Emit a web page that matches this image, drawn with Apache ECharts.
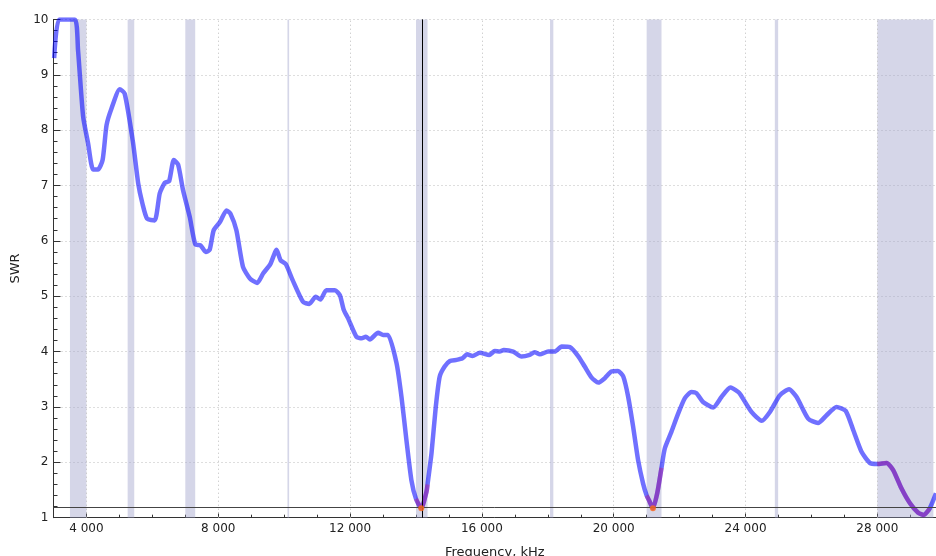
<!DOCTYPE html>
<html><head><meta charset="utf-8">
<script src="https://cdn.jsdelivr.net/npm/echarts@6/dist/echarts.min.js"></script>
<style>html,body{margin:0;padding:0;background:#fff}#c{width:936px;height:556px}</style>
</head><body><div id="c"></div>
<script>
const freq = [3020,3170,3650,3745,3900,4050,4200,4350,4490,4610,4760,5010,5160,5410,5570,5700,5840,6070,6225,6380,6510,6650,6780,6930,7135,7310,7460,7620,7740,7860,8050,8250,8370,8550,8750,8960,9180,9360,9580,9770,9890,10050,10250,10570,10760,10960,11100,11280,11540,11690,11810,11940,12190,12350,12480,12600,12850,13000,13150,13410,13560,13710,13860,14000,14160,14320,14350,14470,14600,14720,14870,15030,15230,15410,15550,15715,15940,16220,16390,16540,16665,16950,17200,17450,17600,17760,18010,18210,18420,18670,18920,19120,19330,19530,19730,19930,20130,20290,20440,20590,20740,20890,21000,21075,21190,21320,21450,21550,21750,21955,22160,22360,22510,22710,23017,23270,23540,23780,23850,24180,24490,24740,25040,25320,25550,25900,26200,26460,26760,27040,27270,27520,27770,28000,28280,28480,28730,28990,29240,29410,29590,29780];
const swr = [9.3,10.0,10.0,9.44,8.24,7.76,7.29,7.29,7.46,8.09,8.39,8.74,8.66,7.79,7.04,6.67,6.40,6.37,6.86,7.05,7.08,7.46,7.38,6.92,6.43,5.93,5.92,5.80,5.84,6.19,6.34,6.55,6.49,6.19,5.53,5.32,5.24,5.41,5.58,5.84,5.65,5.58,5.30,4.90,4.86,4.99,4.94,5.11,5.11,5.02,4.75,4.60,4.27,4.24,4.27,4.22,4.34,4.30,4.30,3.79,3.18,2.40,1.68,1.34,1.17,1.47,1.60,2.16,3.00,3.55,3.73,3.83,3.85,3.88,3.95,3.92,3.98,3.94,4.01,4.00,4.03,4.00,3.91,3.94,3.99,3.95,4.00,4.00,4.09,4.08,3.92,3.73,3.53,3.44,3.52,3.64,3.65,3.55,3.18,2.64,2.04,1.62,1.40,1.31,1.17,1.44,1.90,2.25,2.55,2.88,3.16,3.27,3.25,3.09,2.99,3.18,3.35,3.27,3.22,2.91,2.75,2.91,3.21,3.32,3.18,2.79,2.71,2.85,3.00,2.93,2.58,2.19,1.99,1.97,1.99,1.86,1.53,1.26,1.09,1.05,1.17,1.44];
const bands = [[3500,4000],[5250,5450],[7000,7300],[10100,10150],[14000,14350],[18068,18168],[21000,21450],[24890,24990],[28000,29700]];
const xMajorTicks = [4000,8000,12000,16000,20000,24000,28000];
const yTicks = [1,2,3,4,5,6,7,8,9,10];
const minima = [[14160,1.17],[21190,1.17]];
const markerFreq = 14200;
const swrLimit = 1.18;
const goodSwr = 2;

const FONT = 'DejaVu Sans';
const GRID_COLOR = '#bdbdbd';
const fmt = v => String(v).replace(/\B(?=(\d{3})+(?!\d))/g, ' ');
const inBand = f => bands.some(b => f >= b[0] && f <= b[1]);
const mainData = freq.map((f, i) => [f, swr[i]]);
const goodData = freq.map((f, i) => (inBand(f) && swr[i] < goodSwr) ? [f, swr[i]] : [f, null]);

const chart = echarts.init(document.getElementById('c'), null, {renderer: 'canvas'});
chart.setOption({
  animation: false,
  backgroundColor: '#fff',
  grid: {left: 53.5, right: 0, top: 19.4, bottom: 38.3, outerBoundsMode: 'none'},
  xAxis: [{
    type: 'value', min: 3000, max: 29780, interval: 1000,
    axisLine: {show: true, lineStyle: {color: '#333', width: 1}},
    axisTick: {show: true, inside: true, length: 3, lineStyle: {color: '#333'}},
    axisLabel: {formatter: v => xMajorTicks.includes(v) ? fmt(v) : '', color: '#222', fontSize: 12, fontFamily: FONT, margin: 5},
    splitLine: {show: false}, minorSplitLine: {show: false},
    name: 'Frequency, kHz', nameLocation: 'middle', nameGap: 28,
    nameTextStyle: {color: '#222', fontSize: 13, fontFamily: FONT}
  }, {
    type: 'value', min: 3000, max: 29780, position: 'bottom',
    axisLine: {show: false},
    axisTick: {show: true, inside: true, length: 5, customValues: xMajorTicks, lineStyle: {color: '#333'}},
    axisLabel: {show: false, customValues: xMajorTicks},
    splitLine: {show: false}, minorSplitLine: {show: false}
  }],
  yAxis: {
    type: 'value', min: 1, max: 10, interval: 1,
    axisLine: {show: true, lineStyle: {color: '#333', width: 1}},
    axisTick: {show: true, inside: true, length: 7, lineStyle: {color: '#333'}},
    minorTick: {show: true, splitNumber: 5, length: 4, lineStyle: {color: '#333'}},
    axisLabel: {color: '#222', fontSize: 12, fontFamily: FONT, margin: 5, formatter: v => yTicks.includes(v) ? String(v) : ''},
    splitLine: {show: true, lineStyle: {type: [1, 3], color: GRID_COLOR, width: 1}},
    name: 'SWR', nameLocation: 'middle', nameGap: 31,
    nameTextStyle: {color: '#222', fontSize: 13, fontFamily: FONT}
  },
  series: [{
    type: 'line', data: [], z: 2,
    markLine: {silent: true, symbol: 'none', label: {show: false}, z: 2,
      lineStyle: {type: [1, 3], color: GRID_COLOR, width: 1},
      data: xMajorTicks.map(v => ({xAxis: v}))}
  }, {
    type: 'line', data: mainData, showSymbol: false, smooth: 0.2, z: 3,
    lineStyle: {color: 'rgba(0,0,255,0.56)', width: 4.5},
    markArea: {silent: true, z: 1, itemStyle: {color: 'rgba(162,164,204,0.45)'},
      data: bands.map(b => [{xAxis: b[0]}, {xAxis: b[1]}])}
  }, {
    type: 'line', data: goodData, showSymbol: false, smooth: 0.2, z: 4, connectNulls: false,
    lineStyle: {color: 'rgba(230,0,90,0.3)', width: 4.5}
  }, {
    type: 'scatter', data: minima, symbolSize: 6, z: 7,
    itemStyle: {color: '#ff6a1a'}
  }, {
    type: 'line', data: [], z: 6,
    markLine: {silent: true, symbol: 'none', label: {show: false}, z: 6,
      data: [
        {xAxis: markerFreq, lineStyle: {color: '#000', width: 1, type: 'solid'}},
        {yAxis: swrLimit, lineStyle: {color: '#444', width: 1, type: 'solid'}}
      ]}
  }]
});
</script>
</body></html>
